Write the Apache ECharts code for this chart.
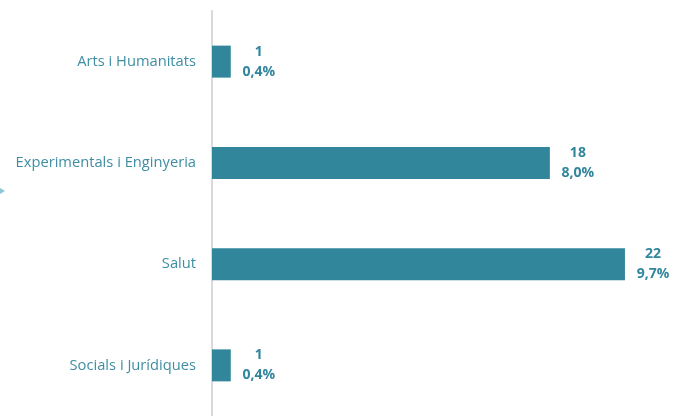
<!DOCTYPE html>
<html>
<head>
<meta charset="utf-8">
<script src="https://cdn.jsdelivr.net/npm/echarts@6/dist/echarts.min.js"></script>
<style>html,body{margin:0;padding:0;background:#fff}#c{width:674px;height:416px}</style>
</head>
<body>
<div id="c"></div>
<script>
const categories = ['Arts i Humanitats', 'Experimentals i Enginyeria', 'Salut', 'Socials i Jurídiques'];
const counts = [1, 18, 22, 1];
const percents = ['0,4%', '8,0%', '9,7%', '0,4%'];

const chart = echarts.init(document.getElementById('c'));
chart.setOption({
  animation: false,
  grid: { left: 212, right: 11.5, top: 11, height: 410 },
  xAxis: { type: 'value', min: 0, max: 24, show: false },
  yAxis: {
    type: 'category', data: categories, inverse: true,
    axisLine: { show: true, lineStyle: { color: '#d9d9d9', width: 2 } },
    axisTick: { show: false },
    axisLabel: { color: '#3f8ea3', fontSize: 14.7, fontFamily: 'Open Sans', margin: 16 }
  },
  graphic: [{
    type: 'polygon', shape: { points: [[0, 188], [5, 191], [0, 194]] },
    style: { fill: '#8fc6d8' }
  }],
  series: [{
    type: 'bar',
    data: counts,
    barWidth: 32,
    itemStyle: { color: '#31869b' },
    label: {
      show: true, position: 'right', distance: 28, align: 'center',
      color: '#31859c', fontWeight: 'bold', fontSize: 14, lineHeight: 20,
      fontFamily: 'Open Sans',
      formatter: p => counts[p.dataIndex] + '\n' + percents[p.dataIndex]
    }
  }]
});
</script>
</body>
</html>
